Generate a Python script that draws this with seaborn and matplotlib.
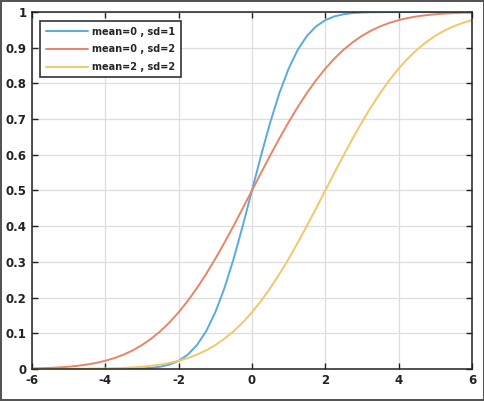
import numpy as np
import pandas as pd
import matplotlib
matplotlib.use('Agg')
import matplotlib.pyplot as plt
import seaborn as sns

# x positions read along the axis (step 0.25)
x = np.arange(-6, 6.001, 0.25)

# mean=0, sd=1
cdf_0_1 = [0, 0, 0, 0, 0, 0, 0, 0, 0, 0.0001, 0.0002, 0.0006, 0.0013, 0.003, 0.0062, 0.0122,
           0.0228, 0.0401, 0.0668, 0.1056, 0.1587, 0.2266, 0.3085, 0.4013, 0.5,
           0.5987, 0.6915, 0.7734, 0.8413, 0.8944, 0.9332, 0.9599, 0.9772, 0.9878, 0.9938,
           0.997, 0.9987, 0.9994, 0.9998, 0.9999, 1, 1, 1, 1, 1, 1, 1, 1, 1]
# mean=0, sd=2
cdf_0_2 = [0.0013, 0.002, 0.003, 0.0043, 0.0062, 0.0088, 0.0122, 0.0168, 0.0228, 0.0304,
           0.0401, 0.0521, 0.0668, 0.0846, 0.1056, 0.1303, 0.1587, 0.1908, 0.2266, 0.266,
           0.3085, 0.3538, 0.4013, 0.4503, 0.5, 0.5497, 0.5987, 0.6462, 0.6915, 0.734,
           0.7734, 0.8092, 0.8413, 0.8697, 0.8944, 0.9154, 0.9332, 0.9479, 0.9599, 0.9696,
           0.9772, 0.9832, 0.9878, 0.9912, 0.9938, 0.9957, 0.997, 0.998, 0.9987]
# mean=2, sd=2
cdf_2_2 = [0, 0.0001, 0.0001, 0.0001, 0.0002, 0.0004, 0.0006, 0.0009, 0.0013, 0.002,
           0.003, 0.0043, 0.0062, 0.0088, 0.0122, 0.0168, 0.0228, 0.0304, 0.0401, 0.0521,
           0.0668, 0.0846, 0.1056, 0.1303, 0.1587, 0.1908, 0.2266, 0.266, 0.3085, 0.3538,
           0.4013, 0.4503, 0.5, 0.5497, 0.5987, 0.6462, 0.6915, 0.734, 0.7734, 0.8092,
           0.8413, 0.8697, 0.8944, 0.9154, 0.9332, 0.9479, 0.9599, 0.9696, 0.9772]

labels = ['mean=0 , sd=1', 'mean=0 , sd=2', 'mean=2 , sd=2']
colors = ['#56ACE0', '#E98466', '#F2C76A']
xticks = [-6, -4, -2, 0, 2, 4, 6]
yticks = [0, 0.1, 0.2, 0.3, 0.4, 0.5, 0.6, 0.7, 0.8, 0.9, 1]
yticklabels = ['0', '0.1', '0.2', '0.3', '0.4', '0.5', '0.6', '0.7', '0.8', '0.9', '1']

df = pd.concat([
    pd.DataFrame({'x': x, 'p': vals, 'curve': lab})
    for vals, lab in zip([cdf_0_1, cdf_0_2, cdf_2_2], labels)
])

sns.set_style('whitegrid')
plt.rcParams['font.family'] = ['DejaVu Sans']
plt.rcParams['axes.unicode_minus'] = False

fig = plt.figure(figsize=(4.85, 4.01), dpi=100, edgecolor='#555555', linewidth=1.5)
ax = fig.add_axes([0.066, 0.080, 0.907, 0.890])

sns.lineplot(data=df, x='x', y='p', hue='curve', palette=colors, linewidth=1.4, ax=ax)

ax.set_xlim(-6, 6)
ax.set_ylim(0, 1)
ax.set_xticks(xticks)
ax.set_yticks(yticks)
ax.set_yticklabels(yticklabels)
ax.set_xlabel('')
ax.set_ylabel('')
ax.grid(True, color='#dddddd', linewidth=0.9)
for s in ax.spines.values():
    s.set_color('#222222')
    s.set_linewidth(1.1)
ax.tick_params(direction='in', length=4, width=1, top=True, right=True,
               bottom=True, left=True, labelsize=8.5, pad=4, colors='#222222')
for t in ax.get_xticklabels() + ax.get_yticklabels():
    t.set_fontweight('bold')

leg = ax.legend(loc='upper left', fontsize=7, frameon=True, fancybox=False,
                handlelength=4.3, handletextpad=0.5, borderpad=0.55, labelspacing=0.8,
                bbox_to_anchor=(0.008, 0.988))
leg.get_frame().set_edgecolor('#333333')
leg.get_frame().set_linewidth(1.2)
leg.get_frame().set_alpha(1)
for t in leg.get_texts():
    t.set_fontweight('bold')

fig.savefig('out.png', dpi=100)
